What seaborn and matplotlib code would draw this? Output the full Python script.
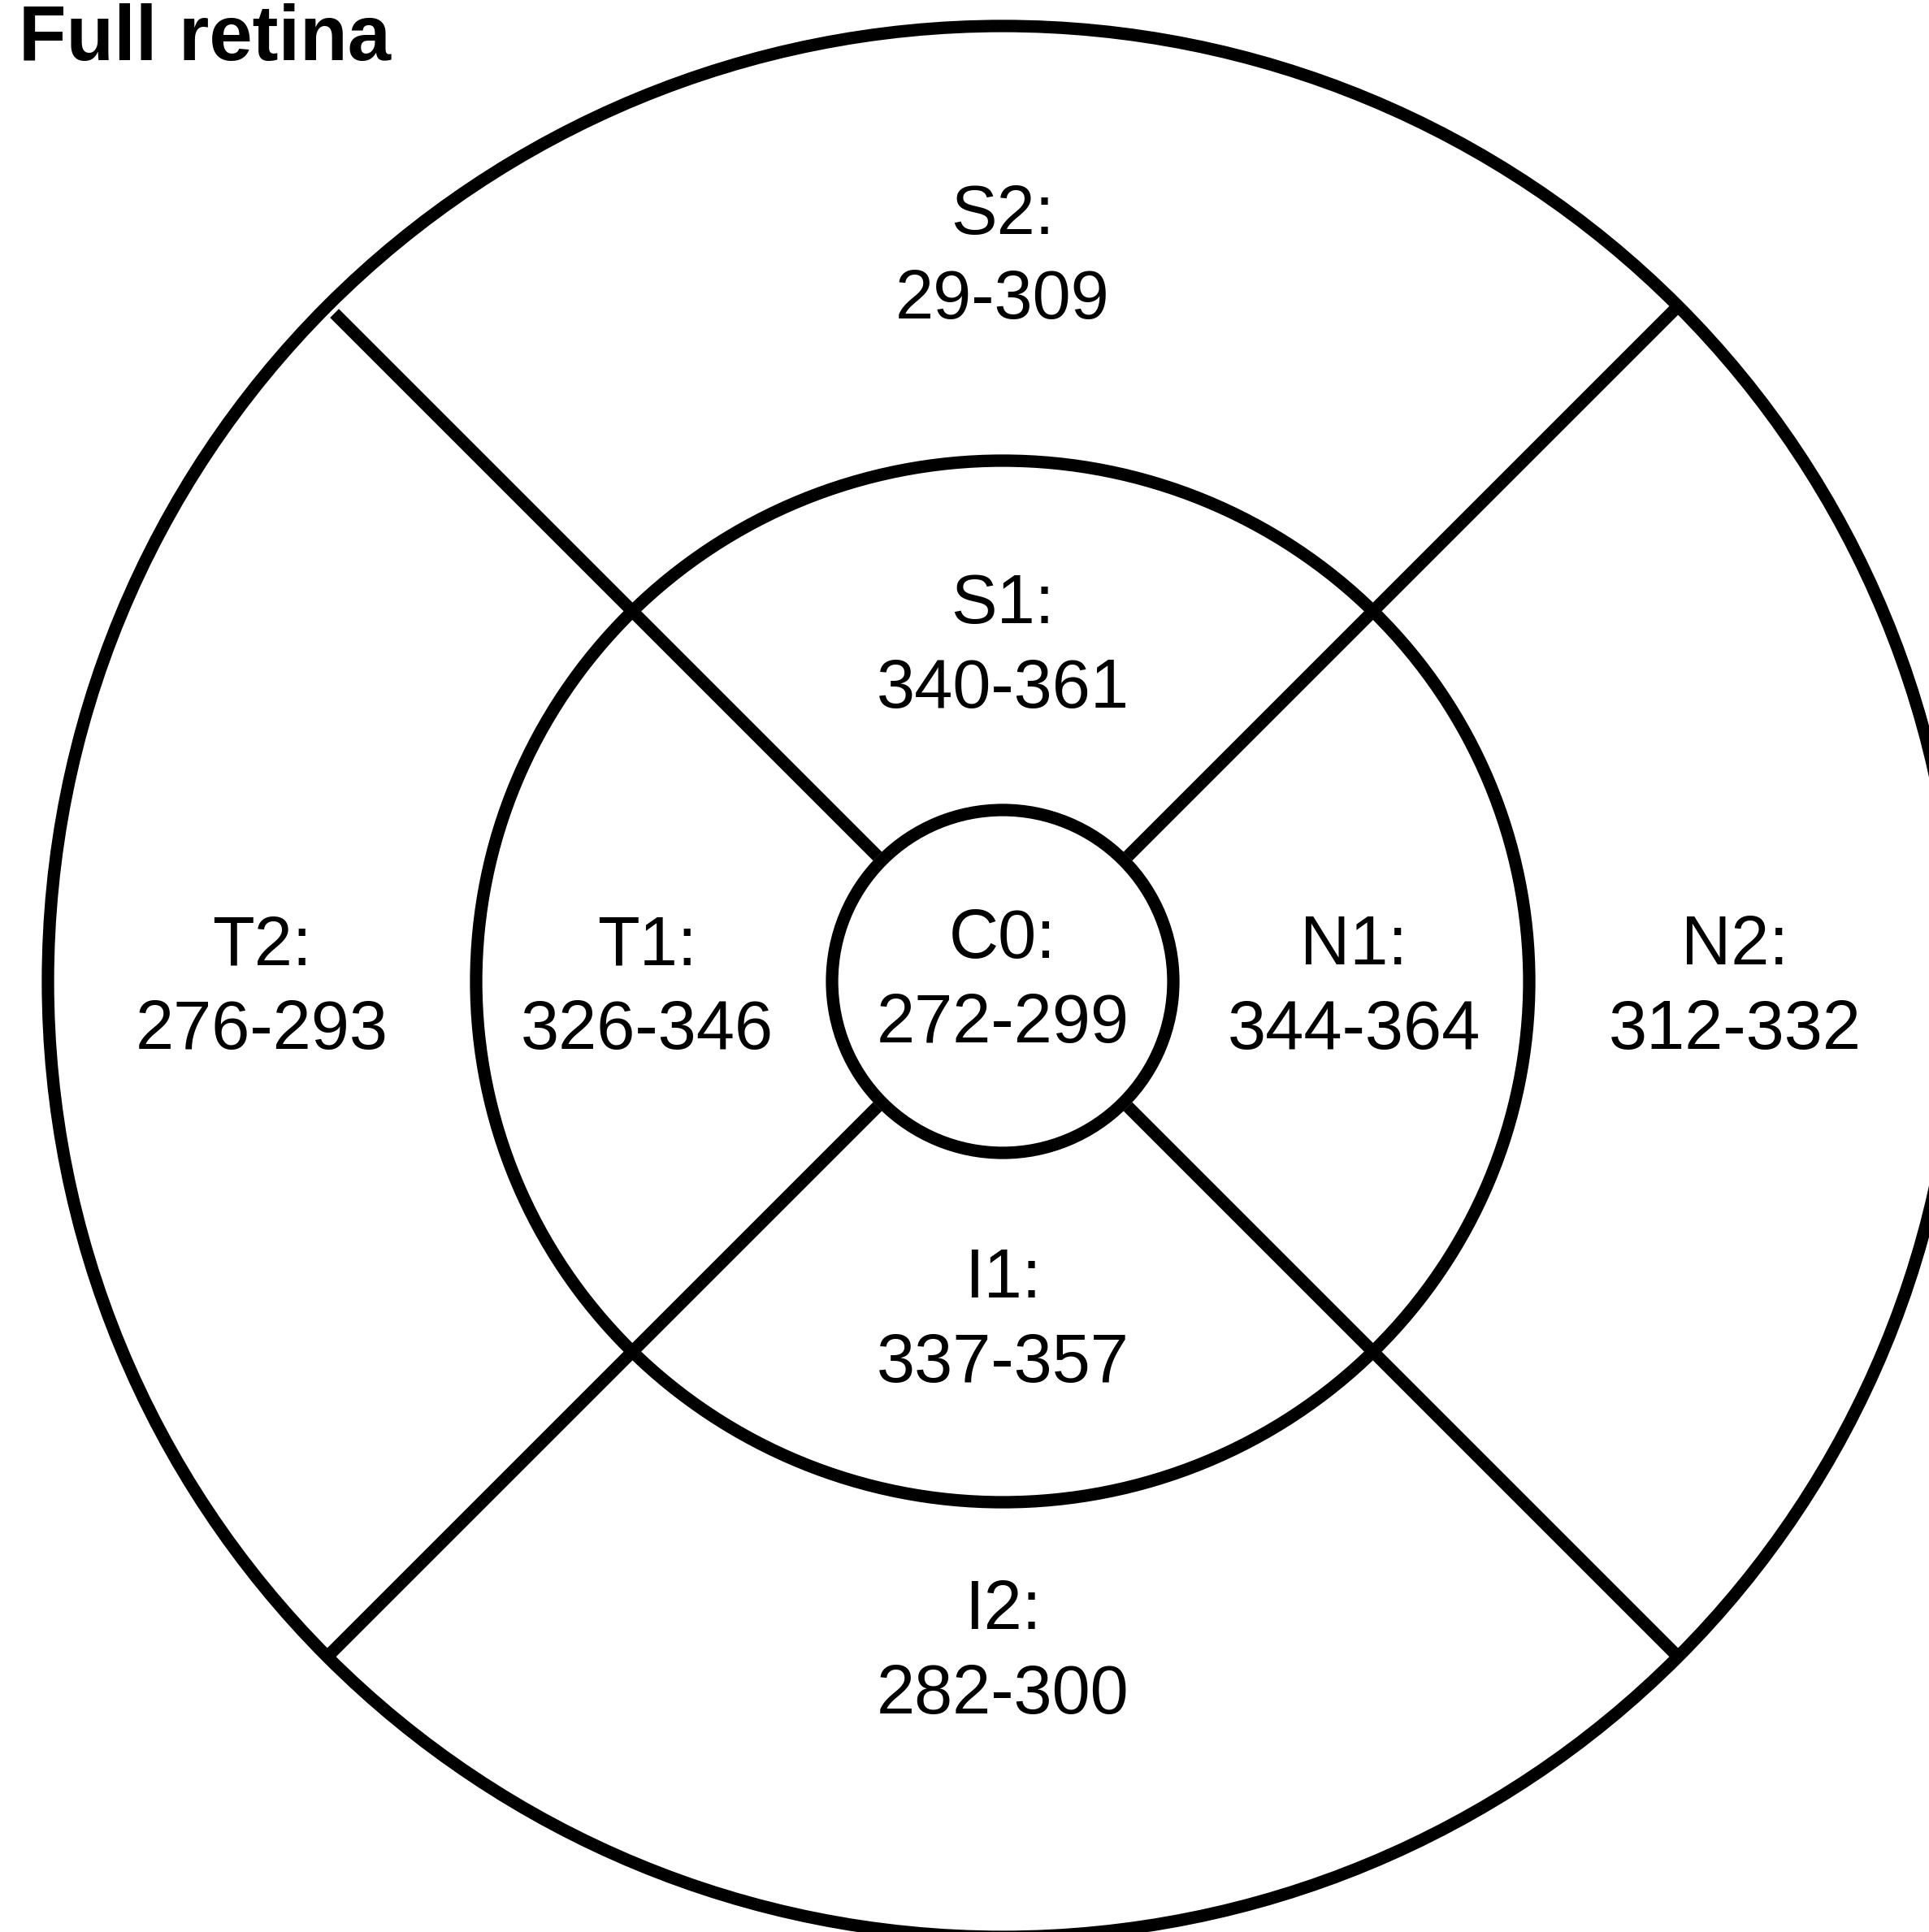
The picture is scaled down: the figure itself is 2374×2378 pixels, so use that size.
import numpy as np
import pandas as pd
import matplotlib
matplotlib.use("Agg")
import matplotlib.pyplot as plt
from matplotlib.patches import Ellipse
import seaborn as sns

# ---- data ----
regions = ["S2", "S1", "T2", "T1", "C0", "N1", "N2", "I1", "I2"]
ranges = ["29-309", "340-361", "276-293", "326-346", "272-299",
          "344-364", "312-332", "337-357", "282-300"]
title = "Full retina"

# ---- layout (pixels, figure space) ----
W, H = 2374, 2378
CX, CY = 1234, 1208
ring_rx = [210, 648, 1175]
ring_ry = [211, 641, 1176]
spoke_angles = [135, 45, 225, 315]          # degrees
spoke_r_in = [218, 218, 218, 218]
spoke_r_out = [1163, 1172, 1172, 1172]
label_offsets = [(0, -899), (0, -420), (-912, 0), (-438, 0), (0, -8),
                 (432, 0), (901, 0), (0, 410), (0, 818)]
NAME_DY, VALUE_DY = -21, 83
LW = 11

sns.set_theme(style="white")
plt.rcParams["font.family"] = ["Liberation Sans", "DejaVu Sans"]

fig = plt.figure(figsize=(W / 100, H / 100), dpi=100)
ax = fig.add_axes([0, 0, 1, 1])

# rings
for rx, ry in zip(ring_rx, ring_ry):
    ax.add_patch(Ellipse((CX, CY), 2 * rx, 2 * ry, fill=False,
                         edgecolor="black", lw=LW, zorder=2))

# spokes via seaborn
rows = []
for i, (a, r0, r1) in enumerate(zip(spoke_angles, spoke_r_in, spoke_r_out)):
    t = np.deg2rad(a)
    for r in (r0, r1):
        rows.append({"spoke": i, "x": CX + r * np.cos(t),
                     "y": CY - r * np.sin(t)})
spokes = pd.DataFrame(rows)
sns.lineplot(data=spokes, x="x", y="y", units="spoke", estimator=None,
             sort=False, color="black", lw=LW, ax=ax, legend=False)
for ln in ax.lines:
    ln.set_solid_capstyle("butt")
ax.set_xlim(0, W)
ax.set_ylim(H, 0)
ax.set_axis_off()

# labels
for name, val, (dx, dy) in zip(regions, ranges, label_offsets):
    ax.text(CX + dx, CY + dy + NAME_DY, f"{name}:", ha="center",
            va="baseline", fontsize=61, color="black", zorder=3)
    ax.text(CX + dx, CY + dy + VALUE_DY, val, ha="center",
            va="baseline", fontsize=61, color="black", zorder=3)

ax.text(23, 74, title, ha="left", va="baseline", fontsize=69,
        fontweight="bold", color="black")

fig.savefig("out.png", dpi=100, facecolor="white")
